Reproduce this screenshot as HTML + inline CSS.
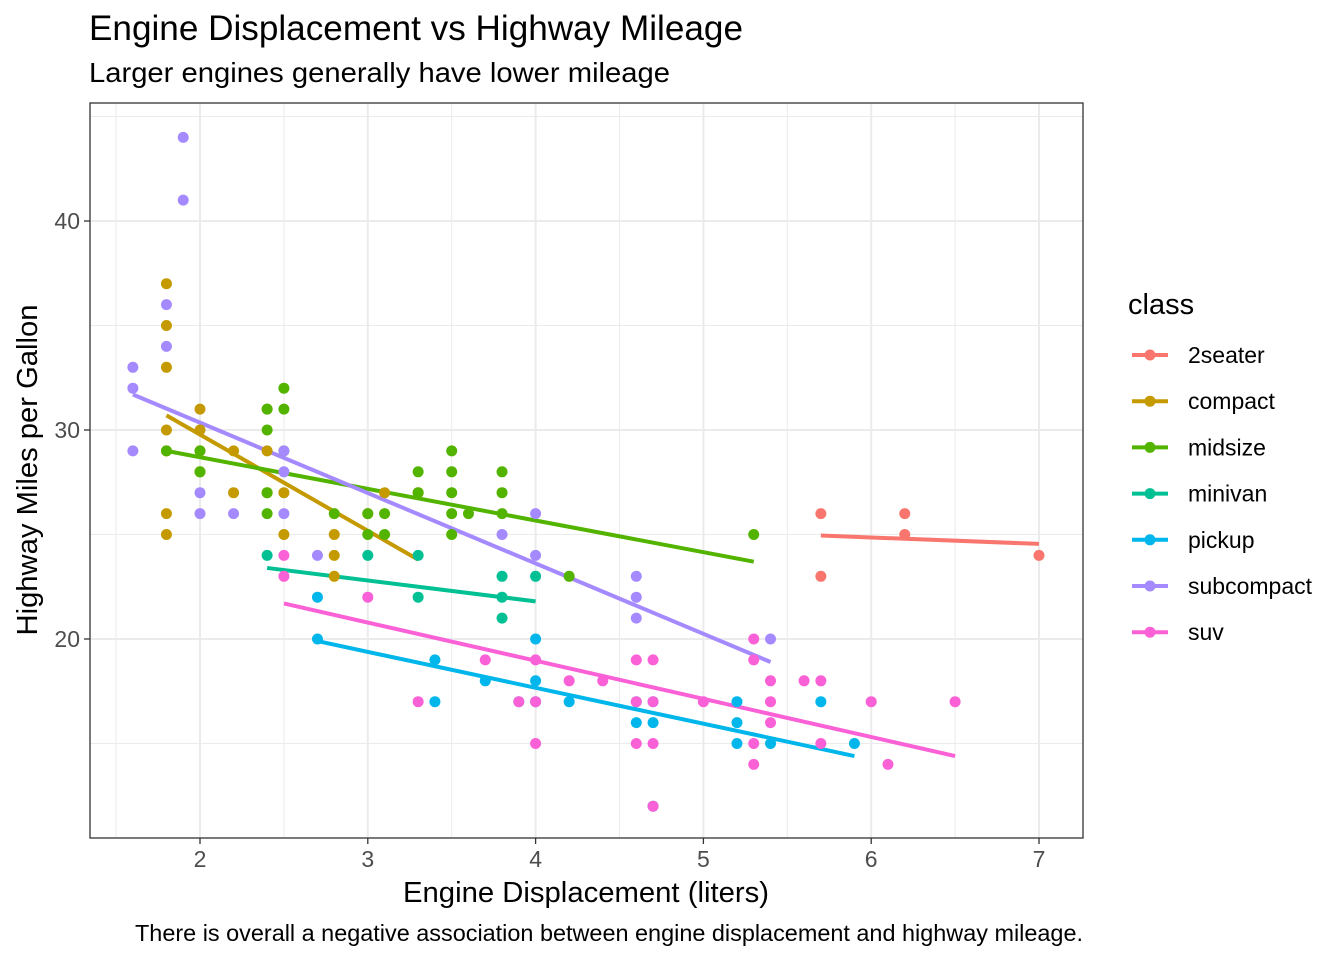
<!DOCTYPE html>
<html><head><meta charset="utf-8"><style>
body{margin:0;background:#fff;}
svg{display:block;font-family:"Liberation Sans",Arial,sans-serif;}
</style></head><body>
<svg id="chart" width="1344" height="960">
<text x="89" y="40" font-size="35" textLength="654" lengthAdjust="spacingAndGlyphs" fill="#000">Engine Displacement vs Highway Mileage</text>
<text x="89" y="82" font-size="28" textLength="581" lengthAdjust="spacingAndGlyphs" fill="#000">Larger engines generally have lower mileage</text>
<g id="grid"></g>
<g id="fits"></g>
<g id="pts"></g>
<rect x="90" y="103" width="993" height="735" fill="none" stroke="#333" stroke-width="1.3"/>
<g id="axes"></g>
<text x="586" y="902" font-size="29" textLength="366" lengthAdjust="spacingAndGlyphs" text-anchor="middle">Engine Displacement (liters)</text>
<text transform="translate(37,470) rotate(-90)" font-size="29" textLength="331" lengthAdjust="spacingAndGlyphs" text-anchor="middle">Highway Miles per Gallon</text>
<text x="1083" y="941" font-size="23" textLength="948" lengthAdjust="spacingAndGlyphs" text-anchor="end">There is overall a negative association between engine displacement and highway mileage.</text>
<g id="legend"></g>
</svg>
<script>
const classes=["2seater","compact","midsize","minivan","pickup","subcompact","suv"];
const colors=["#F8766D","#C49A00","#53B400","#00C094","#00B6EB","#A58AFF","#FB61D7"];
const xTicks=[2,3,4,5,6,7];
const yTicks=[20,30,40];
const pts2seater=[[5.7,26],[5.7,23],[6.2,26],[6.2,25],[7,24]];
const ptsCompact=[[1.8,37],[1.8,35],[1.8,33],[1.8,30],[1.8,29],[1.8,26],[1.8,25],[2,31],[2,30],[2,29],[2,28],[2.2,29],[2.2,27],[2.4,31],[2.4,29],[2.4,27],[2.5,27],[2.5,25],[2.8,25],[2.8,24],[2.8,23],[3,26],[3.1,27],[3.3,27]];
const ptsMidsize=[[1.8,29],[2,29],[2,28],[2.4,31],[2.4,30],[2.4,27],[2.4,26],[2.5,32],[2.5,31],[2.5,29],[2.8,26],[3,26],[3,25],[3.1,26],[3.1,25],[3.3,28],[3.3,27],[3.5,29],[3.5,28],[3.5,27],[3.5,26],[3.5,25],[3.6,26],[3.8,28],[3.8,27],[3.8,26],[4.2,23],[5.3,25]];
const ptsMinivan=[[2.4,24],[3,24],[3.3,24],[3.3,22],[3.8,23],[3.8,22],[3.8,21],[4,23]];
const ptsPickup=[[2.7,22],[2.7,20],[3.4,19],[3.4,17],[3.7,18],[3.9,17],[4,20],[4,18],[4,17],[4.2,17],[4.6,17],[4.6,16],[4.7,17],[4.7,16],[4.7,12],[5.2,17],[5.2,16],[5.2,15],[5.4,15],[5.7,17],[5.9,15]];
const ptsSubcompact=[[1.6,33],[1.6,32],[1.6,29],[1.8,36],[1.8,34],[1.9,44],[1.9,41],[2,27],[2,26],[2.2,26],[2.5,29],[2.5,28],[2.5,26],[2.7,24],[3.8,25],[4,26],[4,24],[4.6,23],[4.6,22],[4.6,21],[5.4,20]];
const ptsSuv=[[2.5,24],[2.5,23],[3,22],[3.3,17],[3.7,19],[3.9,17],[4,19],[4,17],[4,15],[4.2,18],[4.4,18],[4.6,19],[4.6,17],[4.6,15],[4.7,19],[4.7,17],[4.7,15],[4.7,12],[5,17],[5.3,20],[5.3,19],[5.3,15],[5.3,14],[5.4,18],[5.4,17],[5.4,16],[5.6,18],[5.7,18],[5.7,15],[6,17],[6.1,14],[6.5,17]];
const fitLines=[[5.7,24.95,7,24.55],[1.8,30.7,3.3,23.8],[1.8,29,5.3,23.7],[2.4,23.4,4,21.8],[2.7,19.9,5.9,14.4],[1.6,31.7,5.4,18.9],[2.5,21.7,6.5,14.4]];
const allPts=[pts2seater,ptsCompact,ptsMidsize,ptsMinivan,ptsPickup,ptsSubcompact,ptsSuv];
const NS="http://www.w3.org/2000/svg";
const xs=v=>200+(v-2)*167.8;
const ys=v=>430-(v-30)*20.9;
function mk(t,a,p){const e=document.createElementNS(NS,t);for(const k in a)e.setAttribute(k,a[k]);p.appendChild(e);return e;}
const grid=document.getElementById('grid'),axes=document.getElementById('axes');
for(let v=1.5;v<=7.01;v+=0.5){const major=Number.isInteger(v);const l=mk('line',{x1:xs(v),x2:xs(v),y1:103,y2:838,stroke:'#ebebeb','stroke-width':major?2:1},grid);

}
for(let v=15;v<=45;v+=5){const major=v%10===0;const l=mk('line',{x1:90,x2:1083,y1:ys(v),y2:ys(v),stroke:'#ebebeb','stroke-width':major?2:1},grid);

}
xTicks.forEach(v=>{mk('line',{x1:xs(v),x2:xs(v),y1:838,y2:844,stroke:'#333','stroke-width':1.3},axes);const t=mk('text',{x:xs(v),y:867,'font-size':23,fill:'#4d4d4d','text-anchor':'middle'},axes);t.textContent=v;

});
yTicks.forEach(v=>{mk('line',{x1:84,x2:90,y1:ys(v),y2:ys(v),stroke:'#333','stroke-width':1.3},axes);const t=mk('text',{x:80,y:ys(v)+8,'font-size':23,fill:'#4d4d4d','text-anchor':'end'},axes);t.textContent=v;

});
const pg=document.getElementById('pts'),fg=document.getElementById('fits'),lg=document.getElementById('legend');
allPts.forEach((arr,i)=>{arr.forEach(p=>{const c=mk('circle',{cx:xs(p[0]),cy:ys(p[1]),r:5.5,fill:colors[i]},pg);

});
const f=fitLines[i];const l=mk('line',{x1:xs(f[0]),y1:ys(f[1]),x2:xs(f[2]),y2:ys(f[3]),stroke:colors[i],'stroke-width':4},fg);

});
const lt=mk('text',{x:1128,y:314,'font-size':29},lg);lt.textContent='class';


classes.forEach((c,i)=>{const y=355+i*46.2;const g=mk('g',{},lg);


mk('line',{x1:1132,x2:1168,y1:y,y2:y,stroke:colors[i],'stroke-width':4},g);mk('circle',{cx:1150,cy:y,r:5.5,fill:colors[i]},g);
const t=mk('text',{x:1188,y:y+8,'font-size':23},g);t.textContent=c;});
</script>
</body></html>
